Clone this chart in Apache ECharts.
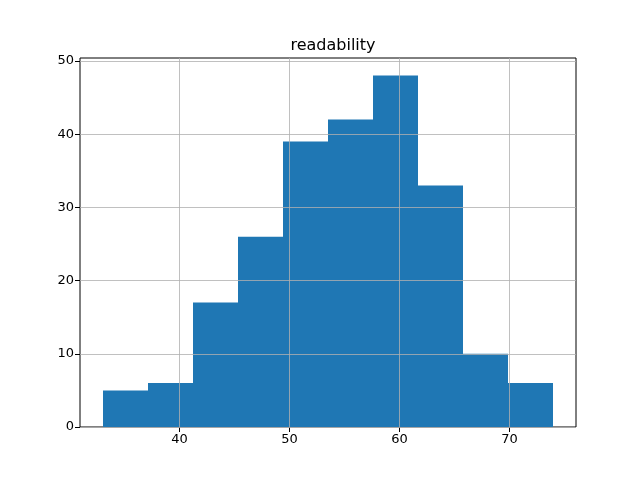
<!DOCTYPE html>
<html>
<head>
<meta charset="utf-8">
<script src="https://cdn.jsdelivr.net/npm/echarts@6/dist/echarts.min.js"></script>
<style>
    html, body { margin: 0; padding: 0; background: #fff; }
    #chart { width: 640px; height: 480px; }
</style>
</head>
<body>
<div id="chart"></div>
<script>
    // bin edges and counts of the histogram
    var binEdges = [33.0, 37.1, 41.2, 45.3, 49.4, 53.5, 57.6, 61.7, 65.8, 69.9, 74.0];
    var counts = [5, 6, 17, 26, 39, 42, 48, 33, 10, 6];
    var xTicks = [40, 50, 60, 70];
    var yTicks = [0, 10, 20, 30, 40, 50];

    var bars = counts.map(function (c, i) {
        return [binEdges[i], binEdges[i + 1], c];
    });

    var chart = echarts.init(document.getElementById('chart'));
    var font = 'DejaVu Sans';

    var gridLines = [];
    xTicks.forEach(function (v) { gridLines.push({ xAxis: v }); });
    yTicks.forEach(function (v) { gridLines.push({ yAxis: v }); });

    var option = {
        animation: false,
        backgroundColor: '#fff',
        title: {
            text: 'readability',
            left: 328,
            top: 33,
            textAlign: 'center',
            textStyle: { fontFamily: font, fontSize: 16, fontWeight: 'normal', color: '#000' }
        },
        grid: {
            left: 80, right: 64, top: 58, bottom: 53,
            show: true, borderColor: '#000', borderWidth: 1, backgroundColor: 'transparent'
        },
        xAxis: {
            type: 'value',
            min: 30.95,
            max: 76.05,
            axisLine: { show: false },
            axisTick: { show: true, inside: false, length: 5, customValues: xTicks, lineStyle: { color: '#000' } },
            axisLabel: { customValues: xTicks, fontFamily: font, fontSize: 13, color: '#000', margin: 6 },
            splitLine: { show: false }
        },
        yAxis: {
            type: 'value',
            min: 0,
            max: 50.4,
            axisLine: { show: false },
            axisTick: { show: true, inside: false, length: 5, customValues: yTicks, lineStyle: { color: '#000' } },
            axisLabel: { customValues: yTicks, fontFamily: font, fontSize: 13, color: '#000', margin: 6 },
            splitLine: { show: false }
        },
        series: [{
            type: 'custom',
            z: 2,
            data: bars,
            renderItem: function (params, api) {
                var p0 = api.coord([api.value(0), 0]);
                var p1 = api.coord([api.value(1), api.value(2)]);
                var x0 = Math.round(p0[0]);
                var x1 = Math.round(p1[0]);
                return {
                    type: 'rect',
                    shape: { x: x0, y: p1[1], width: x1 - x0, height: p0[1] - p1[1] },
                    style: { fill: '#1f77b4' }
                };
            }
        }, {
            type: 'line',
            z: 5,
            data: [],
            silent: true,
            markLine: {
                silent: true,
                symbol: ['none', 'none'],
                label: { show: false },
                lineStyle: { color: '#b0b0b0', width: 0.8, type: 'solid' },
                data: gridLines
            }
        }]
    };
    chart.setOption(option);
</script>
</body>
</html>
